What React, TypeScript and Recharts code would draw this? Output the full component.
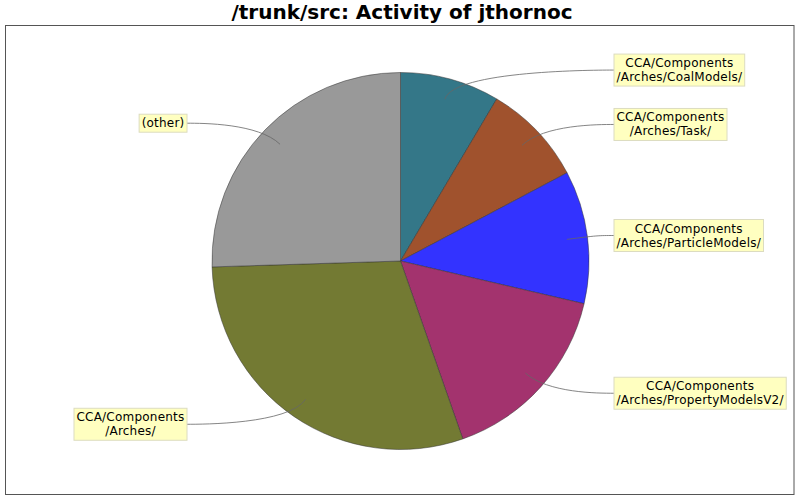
import React from 'react';
import { PieChart, Pie, Cell } from 'recharts';

// directories touched by jthornoc, share of activity (%)
const directories = [
  'CCA/Components\n/Arches/CoalModels/',
  'CCA/Components\n/Arches/Task/',
  'CCA/Components\n/Arches/ParticleModels/',
  'CCA/Components\n/Arches/PropertyModelsV2/',
  'CCA/Components\n/Arches/',
  '(other)',
];
const activity = [8.53, 8.72, 11.39, 16.0, 29.86, 25.5];
const sliceColors = ['#347788', '#a0522d', '#3333ff', '#a3336e', '#737a33', '#999999'];

const LABEL_FONT = '12px "DejaVu Sans"';
const SPACING = 0.22;
const RAD = Math.PI / 180;

let ctx: CanvasRenderingContext2D | null = null;
function textWidth(s: string) {
  if (!ctx) {
    ctx = document.createElement('canvas').getContext('2d');
  }
  if (!ctx) return s.length * 7;
  ctx.font = LABEL_FONT;
  return ctx.measureText(s).width + s.length * SPACING;
}

function LinkLabel(props: any) {
  const { cx, cy, midAngle, outerRadius, index } = props;
  const lines = directories[index].split('\n');
  const cos = Math.cos(midAngle * RAD);
  const sin = Math.sin(midAngle * RAD);
  const right = cos >= 0;

  const linkR = outerRadius * 0.89;
  const elbowR = 198;
  const linkX = cx + cos * linkR;
  const linkY = cy - sin * linkR;
  const elbowX = cx + cos * elbowR;
  const elbowY = cy - sin * elbowR;
  const anchorX = right ? cx + elbowR : cx - elbowR;
  const targetX = right ? cx + 213.5 : cx - 213.5;
  const targetY = elbowY;

  const w = Math.max(...lines.map(textWidth)) + 5;
  const h = lines.length * 14 + 4;
  const bx = right ? targetX : targetX - w;
  const by = targetY - h / 2;

  return (
    <g>
      <path
        d={`M${targetX},${targetY} C${anchorX},${elbowY} ${elbowX},${elbowY} ${linkX},${linkY}`}
        fill="none"
        stroke="#666"
        strokeWidth={0.8}
      />
      <rect x={bx} y={by} width={w} height={h} fill="#ffffc0" stroke="#dcdcc0" strokeWidth={1} />
      {lines.map((ln, i) => (
        <text
          key={i}
          x={bx + w / 2}
          y={by + 13 + i * 14}
          textAnchor="middle"
          fontFamily="DejaVu Sans"
          fontSize={12}
          letterSpacing={SPACING}
          fill="#000"
        >
          {ln}
        </text>
      ))}
    </g>
  );
}

export default function App() {
  const data = directories.map((d, i) => ({ name: d, value: activity[i] }));

  return (
    <div style={{ position: 'fixed', left: 0, top: 0, width: 800, height: 500, background: '#fff' }}>
      <svg width={800} height={500} style={{ position: 'absolute', left: 0, top: 0 }}>
        <text
          x={402}
          y={19}
          textAnchor="middle"
          fontFamily="DejaVu Sans"
          fontWeight="bold"
          fontSize={20}
          fill="#000"
        >
          /trunk/src: Activity of jthornoc
        </text>
        <rect x={5.5} y={25.5} width={788.5} height={469} fill="#fff" stroke="#555" strokeWidth={1} />
      </svg>
      <PieChart
        width={800}
        height={500}
        margin={{ top: 0, right: 0, bottom: 0, left: 0 }}
        style={{ position: 'absolute', left: 0, top: 0 }}
      >
        <Pie
          data={data}
          dataKey="value"
          nameKey="name"
          cx={400.5}
          cy={261}
          outerRadius={188.5}
          startAngle={90}
          endAngle={-270}
          stroke="#333"
          strokeWidth={0.5}
          label={LinkLabel}
          labelLine={false}
          isAnimationActive={false}
        >
          {data.map((d, i) => (
            <Cell key={d.name} fill={sliceColors[i]} />
          ))}
        </Pie>
      </PieChart>
    </div>
  );
}
